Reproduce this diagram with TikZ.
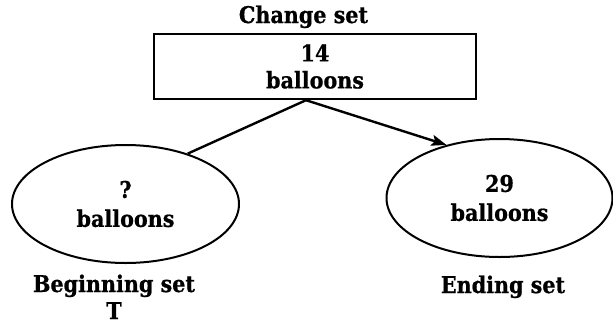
\documentclass[tikz,border=0pt]{standalone}
\usepackage{fontspec}
\setmainfont{DejaVu Serif Condensed}[BoldFeatures={FakeBold=0.8}]
\usetikzlibrary{arrows.meta,shapes.geometric}
\tikzset{
  lbl/.style={font=\bfseries\fontsize{23}{27}\selectfont, align=center, inner sep=0pt},
  setbox/.style={draw, line width=2.4pt, minimum width=322pt, minimum height=65pt, inner sep=0pt,
                 font=\bfseries\fontsize{23}{27}\selectfont, align=center},
  setell/.style={draw, ellipse, line width=2pt, inner sep=0pt,
                 font=\bfseries\fontsize{23}{29}\selectfont, align=center},
  conn/.style={line width=2.4pt},
}
\begin{document}
\begin{tikzpicture}[x=1pt,y=-1pt]
\useasboundingbox (0,0) rectangle (613,325);
\node[setbox] (chg) at (315,66.5) {14\\balloons};
\node[setell, minimum width=227pt, minimum height=118pt] (beg) at (125.5,204) {?\\balloons};
\node[setell, minimum width=226pt, minimum height=118pt] (end) at (499.5,198) {29\\balloons};
\node[lbl, anchor=base] (chgl) at (303.5,23) {Change set};
\node[lbl, anchor=base] (begl) at (114,319) {Beginning set\\T};
\node[lbl, anchor=base] (endl) at (503,293) {Ending set};
\coordinate (apex) at ([xshift=-9pt]chg.south);
\draw[conn] (apex) -- (beg.39);
\draw[conn, -{Stealth[length=15pt,width=11pt,inset=3pt]}] (apex) -- (end.135);
\end{tikzpicture}
\end{document}
